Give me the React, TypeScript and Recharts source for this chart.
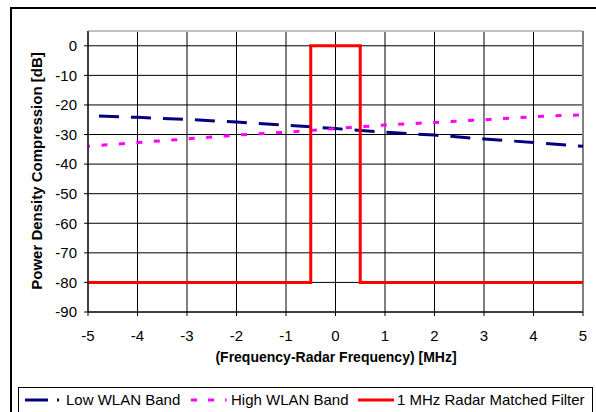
import { LineChart, Line, XAxis, YAxis, CartesianGrid, ReferenceLine } from 'recharts'

// frequency offset (MHz) ticks and dB ticks
const freqTicks = [-5, -4, -3, -2, -1, 0, 1, 2, 3, 4, 5]
const dbTicks = [0, -10, -20, -30, -40, -50, -60, -70, -80, -90]

// WLAN band compression, read at each MHz
const lowBand = [-23.6, -24.2, -24.9, -25.8, -26.8, -28, -29.2, -30.2, -31.5, -32.7, -34]
const highBand = [-34, -32.7, -31.5, -30.2, -29.2, -28, -26.8, -25.9, -25, -24, -23.3]

// 1 MHz radar matched filter (rectangular)
const radarFreq = [-5, -0.5, -0.5, 0.5, 0.5, 5]
const radarLevel = [-80, -80, 0, 0, -80, -80]

const lowData = freqTicks.map((f, i) => ({ f, v: lowBand[i] }))
const highData = freqTicks.map((f, i) => ({ f, v: highBand[i] }))
const radarData = radarFreq.map((f, i) => ({ f, v: radarLevel[i] }))

const FONT = '"Liberation Sans", Arial, sans-serif'
const tickStyle = { fill: '#000', fontSize: 15, fontFamily: FONT }

export default function App() {
  return (
    <div style={{ position: 'absolute', left: 0, top: 0, width: 596, height: 412, overflow: 'hidden', background: '#fff', fontFamily: FONT }}>
      <div style={{ position: 'absolute', left: 10, top: 7, width: 620, height: 440, borderLeft: '2px solid #000', borderTop: '2px solid #000' }} />

      <div style={{ position: 'absolute', left: 0, top: 0 }}>
        <LineChart width={596} height={412} margin={{ top: 31, right: 13, bottom: 0, left: 0 }}>
          <CartesianGrid stroke="#000" strokeWidth={1} />
          <XAxis
            dataKey="f"
            type="number"
            domain={[-5, 5]}
            ticks={freqTicks}
            allowDuplicatedCategory={false}
            height={100}
            tick={tickStyle}
            tickSize={4}
            tickMargin={14}
            axisLine={{ stroke: '#000' }}
            tickLine={{ stroke: '#000' }}
          />
          <YAxis
            type="number"
            domain={[-90, 5]}
            ticks={dbTicks}
            width={88}
            tick={tickStyle}
            tickSize={4}
            tickMargin={7}
            axisLine={{ stroke: '#000' }}
            tickLine={{ stroke: '#000' }}
          />
          <ReferenceLine y={5} stroke="#c0c0c0" strokeWidth={2} />
          <ReferenceLine x={5} stroke="#808080" strokeWidth={2} />
          <Line data={lowData} dataKey="v" type="linear" stroke="#000080" strokeWidth={3}
            strokeDasharray="20 12" strokeDashoffset={21} dot={false} isAnimationActive={false} />
          <Line data={highData} dataKey="v" type="linear" stroke="#ff00ff" strokeWidth={3}
            strokeDasharray="6 11.5" strokeDashoffset={4} dot={false} isAnimationActive={false} />
          <Line data={radarData} dataKey="v" type="linear" stroke="#ff0000" strokeWidth={3}
            dot={false} isAnimationActive={false} />
        </LineChart>
      </div>

      <div style={{ position: 'absolute', left: 36, top: 171, transform: 'translate(-50%, -50%) rotate(-90deg)', whiteSpace: 'nowrap', fontWeight: 'bold', fontSize: 15 }}>
        Power Density Compression [dB]
      </div>
      <div style={{ position: 'absolute', left: 336, top: 357, transform: 'translate(-50%, -50%)', whiteSpace: 'nowrap', fontWeight: 'bold', fontSize: 14 }}>
        (Frequency-Radar Frequency) [MHz]
      </div>

      <div style={{ position: 'absolute', left: 18, top: 387, width: 573, height: 40, border: '1px solid #000', fontSize: 15 }}>
        <svg width={573} height={24} style={{ position: 'absolute', left: 0, top: 0 }}>
          <line x1={6} y1={12} x2={29} y2={12} stroke="#000080" strokeWidth={3} />
          <line x1={38} y1={12} x2={40} y2={12} stroke="#000080" strokeWidth={3} />
          <line x1={172} y1={12} x2={178} y2={12} stroke="#ff00ff" strokeWidth={3} />
          <line x1={189} y1={12} x2={195} y2={12} stroke="#ff00ff" strokeWidth={3} />
          <line x1={206} y1={12} x2={207.5} y2={12} stroke="#ff00ff" strokeWidth={3} />
          <line x1={339} y1={12} x2={375} y2={12} stroke="#ff0000" strokeWidth={3} />
        </svg>
        <span style={{ position: 'absolute', left: 47, top: 3, whiteSpace: 'nowrap' }}>Low WLAN Band</span>
        <span style={{ position: 'absolute', left: 212, top: 3, whiteSpace: 'nowrap' }}>High WLAN Band</span>
        <span style={{ position: 'absolute', left: 378, top: 3, whiteSpace: 'nowrap' }}>1 MHz Radar Matched Filter</span>
      </div>
    </div>
  )
}
